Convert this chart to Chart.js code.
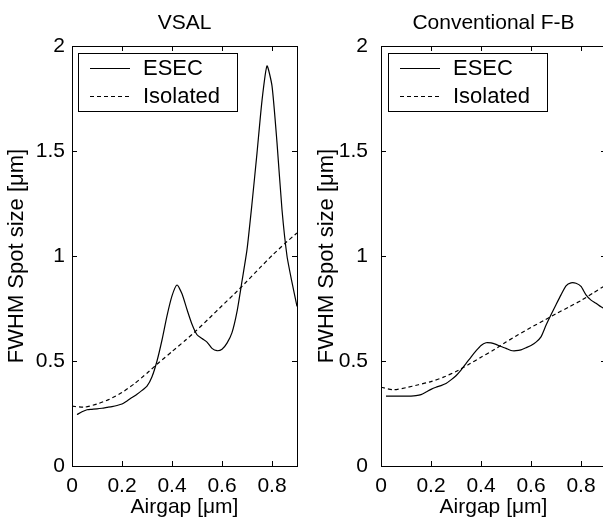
<!DOCTYPE html>
<html>
<head>
<meta charset="utf-8">
<script src="https://cdn.jsdelivr.net/npm/chart.js@4.4.0/dist/chart.umd.min.js"></script>
<style>
  html, body { margin: 0; padding: 0; background: #fff; overflow: hidden; }
  #wrap { position: relative; width: 603px; height: 524px; overflow: hidden; background: #fff; }
  canvas { position: absolute; top: 0; }
  #left { left: 0; }
  #right { left: 300px; }
</style>
</head>
<body>
<div id="wrap">
  <canvas id="left" width="300" height="524"></canvas>
  <canvas id="right" width="310" height="524"></canvas>
</div>
<script>
// Airgap samples (µm)
const airgapEsec = [0.02, 0.04, 0.06, 0.08, 0.10, 0.12, 0.14, 0.16, 0.18, 0.20,
                    0.22, 0.24, 0.26, 0.28, 0.30, 0.32, 0.34, 0.36, 0.38, 0.40,
                    0.42, 0.44, 0.46, 0.48, 0.50, 0.52, 0.54, 0.56, 0.58, 0.60,
                    0.62, 0.64, 0.66, 0.68, 0.70, 0.72, 0.74, 0.76, 0.78, 0.80,
                    0.82, 0.84, 0.86, 0.88, 0.90];
const airgapIsolated = [0, 0.05, 0.10, 0.15, 0.20, 0.25, 0.30, 0.35, 0.40, 0.45,
                        0.50, 0.55, 0.60, 0.65, 0.70, 0.75, 0.80, 0.85, 0.90];

// FWHM spot size (µm) — VSAL
const vsalEsec = [0.245, 0.258, 0.268, 0.270, 0.272, 0.275, 0.279, 0.283, 0.288, 0.295,
                  0.310, 0.326, 0.342, 0.360, 0.380, 0.425, 0.500, 0.600, 0.715, 0.810,
                  0.862, 0.820, 0.745, 0.675, 0.625, 0.607, 0.590, 0.560, 0.549, 0.556,
                  0.585, 0.635, 0.735, 0.880, 1.030, 1.250, 1.490, 1.740, 1.905, 1.810,
                  1.540, 1.220, 1.000, 0.874, 0.760];
const vsalIsolated = [0.285, 0.280, 0.295, 0.318, 0.350, 0.392, 0.442, 0.495, 0.545, 0.595,
                      0.648, 0.705, 0.763, 0.820, 0.880, 0.942, 1.002, 1.058, 1.110];

// FWHM spot size (µm) — conventional F-B
const fbEsec = [0.333, 0.333, 0.333, 0.333, 0.333, 0.333, 0.335, 0.340, 0.352, 0.365,
                0.375, 0.383, 0.393, 0.410, 0.430, 0.457, 0.488, 0.519, 0.548, 0.574,
                0.587, 0.586, 0.579, 0.569, 0.560, 0.550, 0.549, 0.553, 0.563, 0.574,
                0.590, 0.615, 0.670, 0.720, 0.768, 0.815, 0.858, 0.872, 0.870, 0.855,
                0.815, 0.790, 0.775, 0.758, 0.745];
const fbIsolated = [0.375, 0.363, 0.373, 0.387, 0.402, 0.423, 0.450, 0.483, 0.518, 0.552,
                    0.590, 0.626, 0.660, 0.692, 0.725, 0.756, 0.788, 0.825, 0.862];

const xTicks = [0, 0.2, 0.4, 0.6, 0.8];
const yTicks = [0, 0.5, 1, 1.5, 2];
const seriesNames = ['ESEC', 'Isolated'];
const panelTitles = ['VSAL', 'Conventional F-B'];
const xTitle = 'Airgap [\u03bcm]';
const yTitle = 'FWHM Spot size [\u03bcm]';

const FONT = '"Liberation Sans", Arial, sans-serif';
Chart.defaults.font.family = FONT;
Chart.defaults.font.size = 21;
Chart.defaults.color = '#000';

const toPoints = (xs, ys) => xs.map((x, i) => ({ x, y: ys[i] }));

// Box frame with inward ticks, panel title and boxed legend
const framePlugin = {
  id: 'frame',
  afterDatasetsDraw(chart, args, opts) {
    const { ctx, chartArea: a, scales: { x, y } } = chart;
    ctx.save();
    ctx.strokeStyle = '#000';
    ctx.lineWidth = 1;
    ctx.setLineDash([]);
    ctx.strokeRect(a.left + 0.5, a.top + 0.5, a.right - a.left, a.bottom - a.top);
    const len = 5;
    ctx.beginPath();
    xTicks.forEach(v => {
      const px = Math.round(x.getPixelForValue(v)) + 0.5;
      ctx.moveTo(px, a.bottom); ctx.lineTo(px, a.bottom - len);
      ctx.moveTo(px, a.top); ctx.lineTo(px, a.top + len);
    });
    yTicks.forEach(v => {
      const py = Math.round(y.getPixelForValue(v)) + 0.5;
      ctx.moveTo(a.left, py); ctx.lineTo(a.left + len, py);
      ctx.moveTo(a.right, py); ctx.lineTo(a.right - len, py);
    });
    ctx.stroke();

    // title
    ctx.fillStyle = '#000';
    ctx.font = `21px ${FONT}`;
    ctx.textAlign = 'center';
    ctx.textBaseline = 'middle';
    ctx.fillText(opts.title, (a.left + a.right) / 2, 23);

    // legend
    const lx = a.left + opts.legendDx, ly = a.top + 7;
    ctx.fillStyle = '#fff';
    ctx.fillRect(lx, ly, 160, 58);
    ctx.strokeRect(lx + 0.5, ly + 0.5, 159, 58);
    ctx.font = `22px ${FONT}`;
    chart.data.datasets.forEach((ds, i) => {
      const yy = ly + 15 + i * 28 + 0.5;
      ctx.strokeStyle = ds.borderColor;
      ctx.lineWidth = ds.borderWidth;
      ctx.setLineDash(ds.borderDash || []);
      ctx.beginPath();
      ctx.moveTo(lx + 12, yy); ctx.lineTo(lx + 52, yy);
      ctx.stroke();
      ctx.setLineDash([]);
      ctx.fillStyle = '#000';
      ctx.textAlign = 'left';
      ctx.fillText(ds.label, lx + 65, yy + 0.5);
    });
    ctx.restore();
  }
};

function makePanel(canvasId, title, esec, isolated, axisWidth, rightPad, tickPad, yTitlePad, legendDx) {
  return new Chart(document.getElementById(canvasId), {
    type: 'line',
    data: {
      datasets: [
        { label: seriesNames[0], data: toPoints(airgapEsec, esec),
          borderColor: '#000', borderWidth: 1.2, pointRadius: 0, tension: 0.2, fill: false },
        { label: seriesNames[1], data: toPoints(airgapIsolated, isolated),
          borderColor: '#000', borderWidth: 1.2, borderDash: [4, 3], pointRadius: 0, tension: 0.2, fill: false }
      ]
    },
    options: {
      responsive: false,
      animation: false,
      layout: { padding: { top: 46, right: rightPad, bottom: 0, left: 0 } },
      plugins: {
        legend: { display: false },
        tooltip: { enabled: false },
        title: { display: false },
        frame: { title, legendDx }
      },
      scales: {
        x: {
          type: 'linear', min: 0, max: 0.9,
          grid: { display: false, drawTicks: false },
          border: { display: false },
          afterBuildTicks: s => { s.ticks = xTicks.map(v => ({ value: v })); },
          afterFit: s => { s.height = 58; },
          ticks: { padding: 8, callback: v => `${v}`, maxRotation: 0, autoSkip: false },
          title: { display: true, text: xTitle, padding: { top: 0, bottom: 4 } }
        },
        y: {
          type: 'linear', min: 0, max: 2,
          grid: { display: false, drawTicks: false },
          border: { display: false },
          afterBuildTicks: s => { s.ticks = yTicks.map(v => ({ value: v })); },
          afterFit: s => { s.width = axisWidth; },
          ticks: { padding: tickPad, callback: v => `${v}` },
          title: { display: true, text: yTitle, font: { size: 22 }, padding: { top: yTitlePad, bottom: 0 } }
        }
      }
    },
    plugins: [framePlugin]
  });
}

makePanel('left', panelTitles[0], vsalEsec, vsalIsolated, 72, 3, 7, 4, 6);
makePanel('right', panelTitles[1], fbEsec, fbIsolated, 81, 4, 13, 14, 7);
</script>
</body>
</html>
